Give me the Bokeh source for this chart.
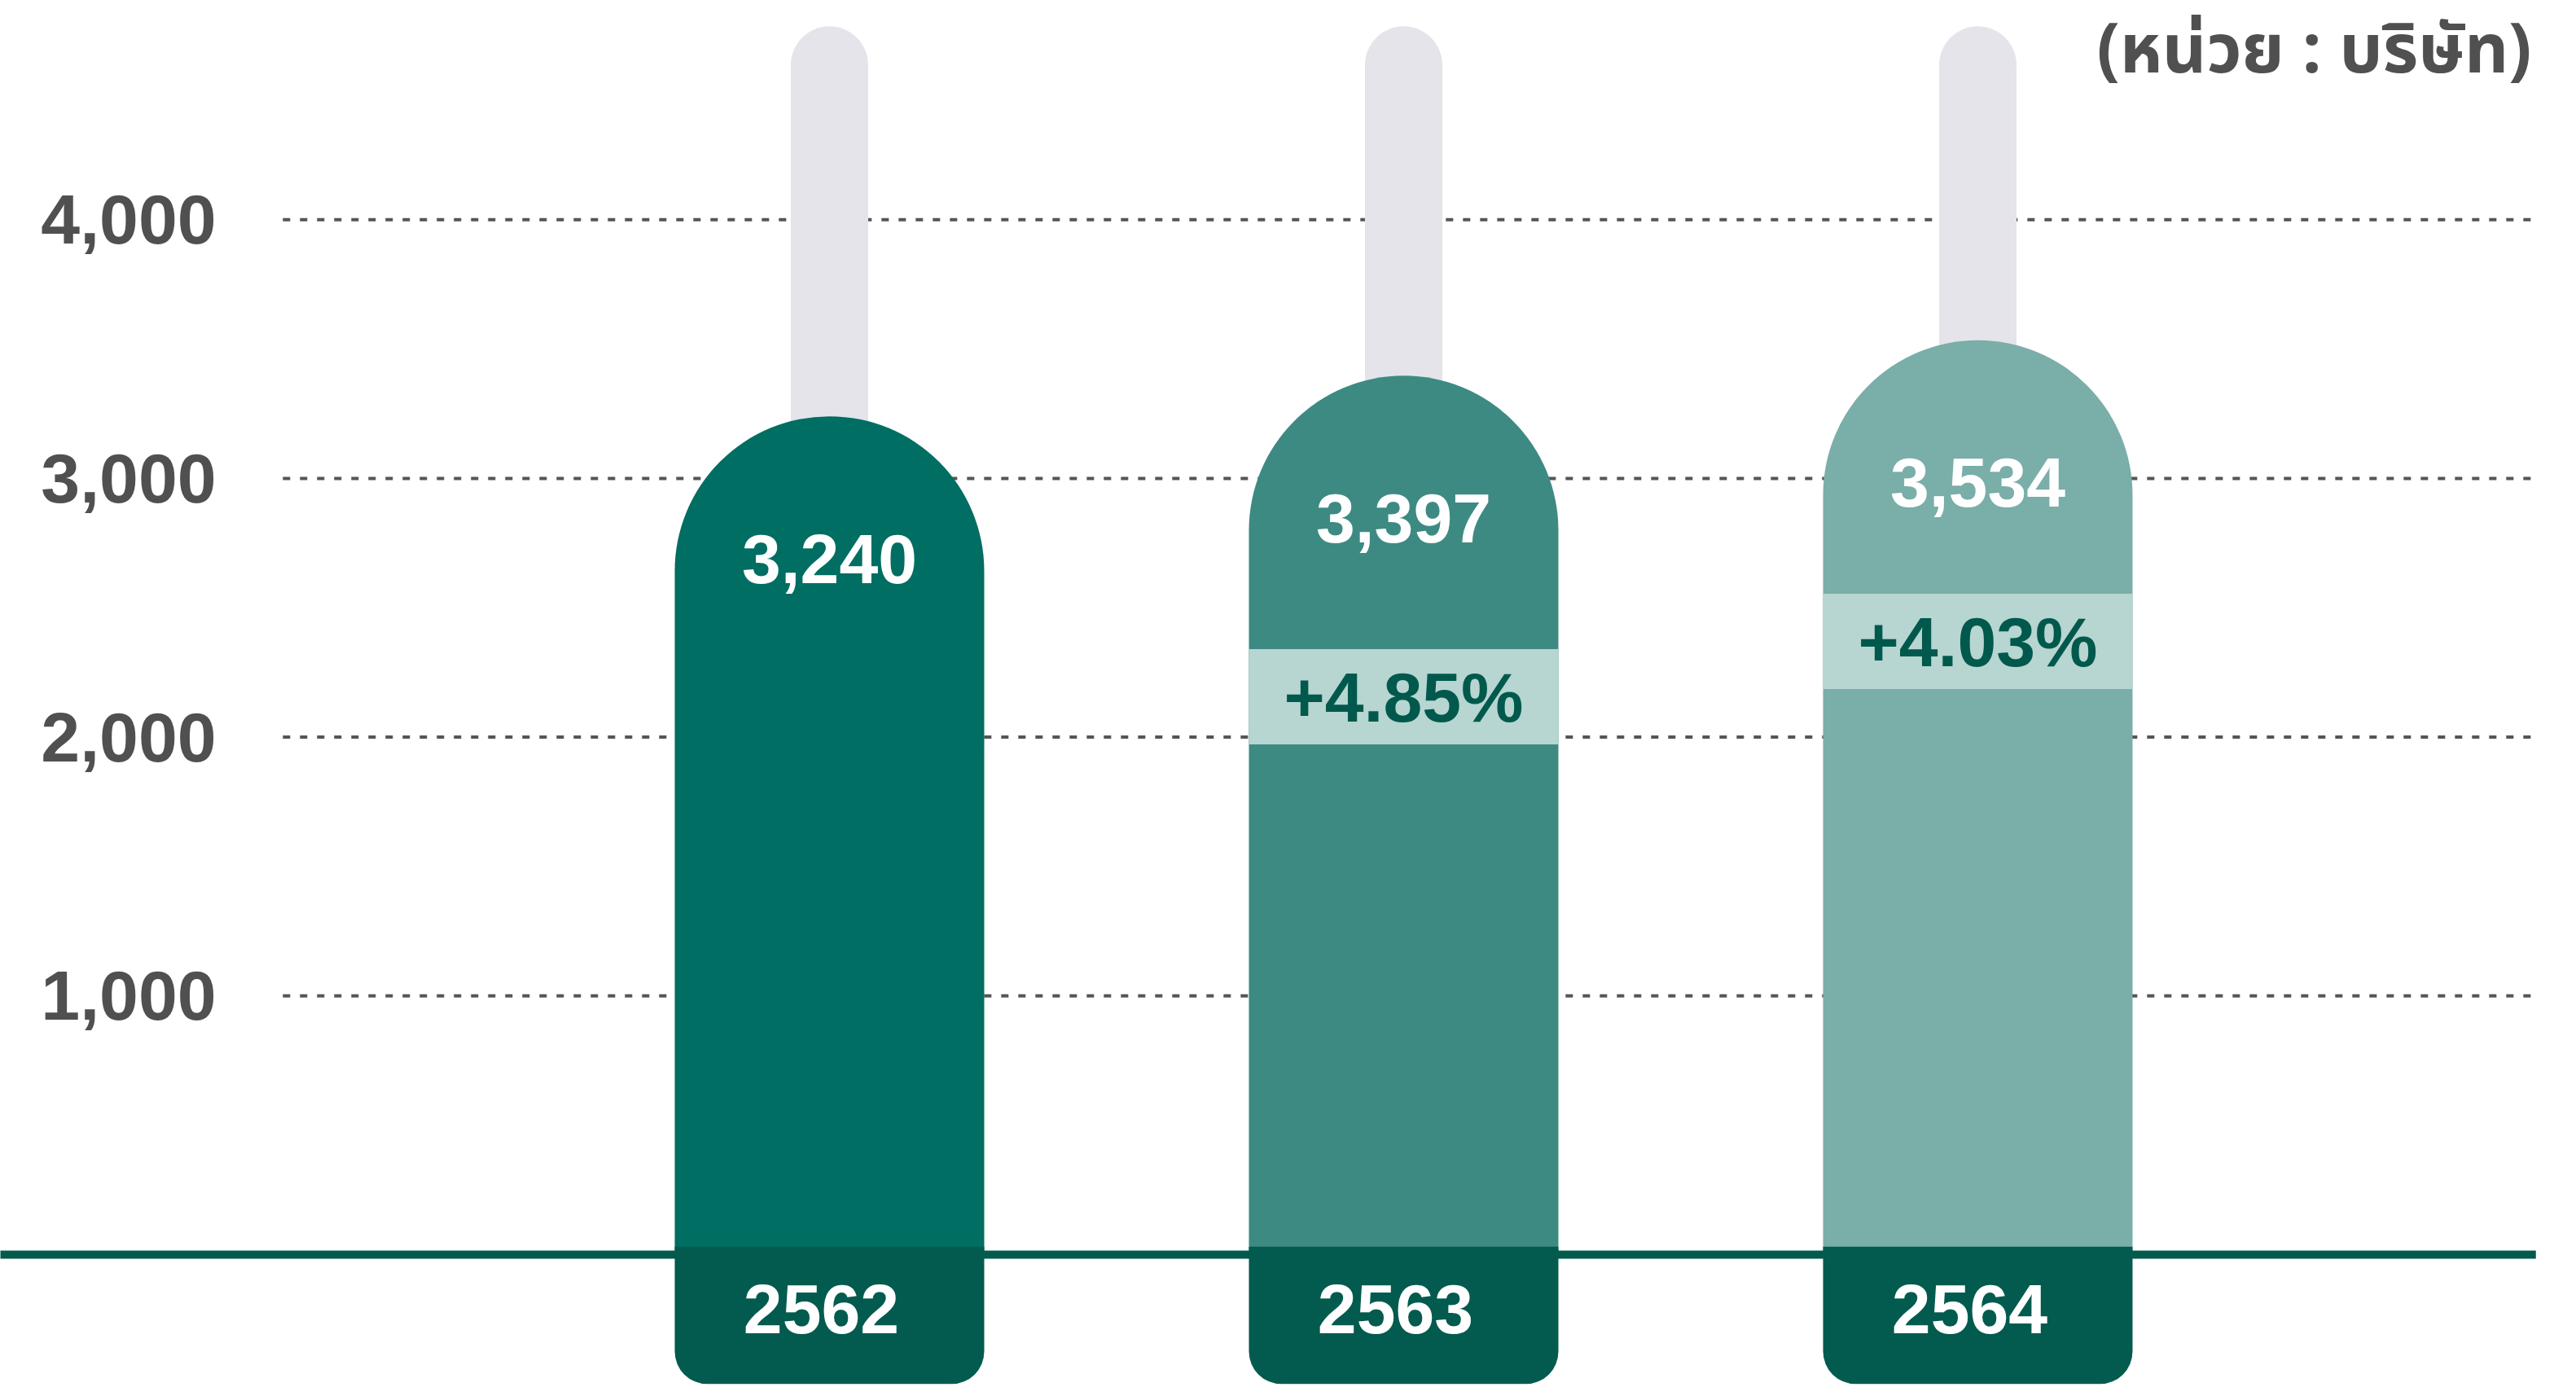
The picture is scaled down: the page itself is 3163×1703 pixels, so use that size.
from bokeh.plotting import figure
from bokeh.models import ColumnDataSource, Range1d
from bokeh.core.properties import value
from bokeh.embed import file_html
from bokeh.resources import INLINE

# ---- data ----
years = ["2562", "2563", "2564"]
companies = [3240, 3397, 3534]
growth_labels = ["", "+4.85%", "+4.03%"]
y_ticks = [1000, 2000, 3000, 4000]
y_tick_labels = ["1,000", "2,000", "3,000", "4,000"]
unit_label = "(หน่วย : บริษัท)"

# ---- style / layout ----
bar_colors = ["#006e62", "#3d8a83", "#7aaea8"]
cap_color = "#025b4e"
stem_color = "#e4e4ea"
box_color = "#b7d5d1"
pct_text_color = "#00594c"
tick_color = "#505050"
FONT = value("Liberation Sans")
THAI_FONT = value("'Noto Sans Thai', 'Noto Sans Thai UI', 'Noto Sans', sans-serif")

xs = list(range(len(years)))
BAR_W = 0.539
STEM_W = 0.1348
STEM_TOP = 4747
GRID_X0, GRID_X1 = -0.952, 2.976
BASE_X1 = 2.972
CAP_TOP, CAP_BOTTOM = 31, -500
growth_box_mid = [None, 2156, 2370]   # vertical placement of growth boxes
BOX_HALF = 184

p = figure(width=3160, height=1700,
           x_range=Range1d(-1.44397, 3.03830), y_range=Range1d(-503.6, 4847.3),
           output_backend="svg", toolbar_location=None,
           x_axis_type=None, y_axis_type=None, min_border=0,
           outline_line_color=None, background_fill_color="white",
           border_fill_color="white")

# dotted gridlines
p.segment(x0=GRID_X0, x1=GRID_X1, y0=y_ticks, y1=y_ticks,
          line_dash="9 12", line_width=4, line_color="#555555")

# tick labels
p.text(x=-1.068, y=y_ticks, text=y_tick_labels, text_align="right",
       text_baseline="middle", text_font=FONT, text_font_style="bold",
       text_font_size="86px", text_color=tick_color)

src = ColumnDataSource(dict(x=xs, year=years, val=companies, color=bar_colors,
                            val_txt=[f"{v:,}" for v in companies]))

# grey stems
p.vbar(x="x", width=STEM_W, bottom=0, top=STEM_TOP, source=src,
       fill_color=stem_color, line_color=None, border_radius=(48, 48, 0, 0))

# main bars
p.vbar(x="x", width=BAR_W, bottom=0, top="val", source=src,
       fill_color="color", line_color=None, border_radius=(190, 190, 0, 0))

# baseline
p.segment(x0=-1.5, x1=BASE_X1, y0=0, y1=0, line_width=10, line_color="#045a4c")

# bottom caps
p.vbar(x="x", width=BAR_W, bottom=CAP_BOTTOM, top=CAP_TOP, source=src,
       fill_color=cap_color, line_color=None, border_radius=(0, 0, 40, 40))

# growth boxes
gx = [x for x, g in zip(xs, growth_labels) if g]
gm = [m for m, g in zip(growth_box_mid, growth_labels) if g]
gt = [g for g in growth_labels if g]
gsrc = ColumnDataSource(dict(x=gx, mid=gm,
                             top=[m + BOX_HALF for m in gm],
                             bot=[m - BOX_HALF for m in gm], txt=gt))
p.vbar(x="x", width=BAR_W, bottom="bot", top="top", source=gsrc,
       fill_color=box_color, line_color=None)
p.text(x="x", y="mid", text="txt", source=gsrc, text_align="center",
       text_baseline="middle", text_font=FONT, text_font_style="bold",
       text_font_size="86px", text_color=pct_text_color)

# value labels
p.text(x="x", y="val", text="val_txt", source=src, y_offset=175,
       text_align="center", text_baseline="middle", text_font=FONT,
       text_font_style="bold", text_font_size="86px", text_color="white")

# year labels
p.text(x="x", y=0, text="year", source=src, y_offset=67, x_offset=-10,
       text_align="center", text_baseline="middle", text_font=FONT,
       text_font_style="bold", text_font_size="86px", text_color="white")

# unit label
p.text(x=[2.9645], y=[4649], text=[unit_label], text_align="right",
       text_baseline="middle", text_font=THAI_FONT, text_font_style="bold",
       text_font_size="84px", text_color="#505050")

open("out.html", "w").write(file_html(p, INLINE))
